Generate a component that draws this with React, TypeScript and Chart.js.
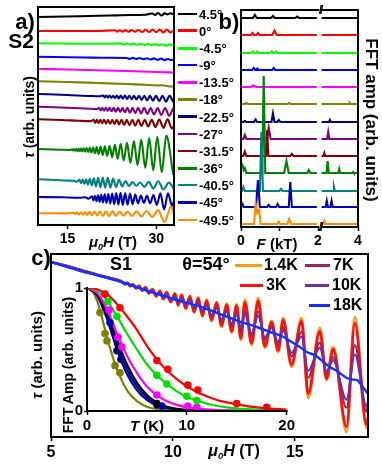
import React, { useEffect, useRef } from "react";
import { Chart, registerables } from "chart.js";
Chart.register(...registerables);

const FONT = '"Liberation Sans", Arial, Helvetica, sans-serif';

// ---------------- Panel a : torque vs field, sample S2, several angles ----------------
const angleLabels = ["4.5°", "0°", "-4.5°", "-9°", "-13.5°", "-18°", "-22.5°", "-27°", "-31.5°", "-36°", "-40.5°", "-45°", "-49.5°"];
const angleColors = ["#000000", "#ff0000", "#00ff00", "#0000ff", "#ff00ff", "#808000", "#000080", "#800080", "#800000", "#008000", "#008080", "#0000b0", "#ff8c00"];
const fieldTicksA = [15, 30];

const tauP45: number[][] = [[10,205],[17.1,205.7],[22.2,206.5],[25.6,207],[28.1,207.3],[29.3,208.5],[29.8,207],[30.3,209],[30.9,206.5],[31.4,208.6],[31.9,207.5],[32.4,208.8],[32.9,207.8]];
const tau0: number[][] = [[10,191],[20,191],[23,191.8],[23.4,190.4],[23.8,191.8],[24.3,190.3],[24.8,191.9],[25.3,190.2],[25.8,192],[26.4,190.2],[27,192],[27.6,190],[28.2,192.2],[28.8,190],[29.4,192.5],[30,189.8],[30.6,192.5],[31.2,189.5],[31.8,192.5],[32.4,189.5],[32.9,191]];
const tauM45: number[][] = [[10,178.7],[18,178.3],[22,178.2],[24,178.6],[24.5,177.4],[25,178.5],[25.6,177.3],[26.2,178.4],[26.8,177.2],[27.4,178.3],[28,177],[28.6,178.1],[29.2,176.8],[29.8,178],[30.4,176.6],[31,177.8],[31.6,176.3],[32.2,177.6],[32.9,176.5]];
const tauM9: number[][] = [[10,165.3],[18,164.5],[22,164.2],[25,164],[25.5,163],[26,164.2],[26.6,163],[27.2,164],[27.8,162.8],[28.4,163.8],[29,162.5],[29.6,163.6],[30.2,162.2],[30.8,163.4],[31.4,162],[32,163],[32.5,161.8],[32.9,162.4]];
const tauM135: number[][] = [[10,153],[15,152.5],[20,151.8],[25,151],[30,150],[33,149.5]];
const tauM18: number[][] = [[10,140.7],[15,140],[20,139],[25,138],[28,137.3],[30,136.5],[31,136.8],[32,135.8],[33,135.5]];
const tauM225: number[][] = [[10,128],[15,127],[19,126],[20.5,125.8],[21,126.5],[21.27,124.6],[21.54,126.5],[21.82,124.4],[22.1,126.4],[22.4,124.3],[22.7,126.3],[23.01,124],[23.33,126.4],[23.66,123.6],[24,126.5],[24.34,123.3],[24.7,126.4],[25.07,123.1],[25.45,126.3],[25.84,122.8],[26.24,126.3],[26.65,122.5],[27.08,126.2],[27.52,122.1],[27.98,126.2],[28.45,121.7],[28.94,126.2],[29.44,121.3],[29.96,126.2],[30.5,120.9],[31.06,126.2],[31.64,120.4],[32.25,126.1],[32.87,120]];
const tauM27: number[][] = [[10,115.3],[15,114.2],[18,113.5],[20,113],[20.31,114.1],[20.59,111.6],[20.88,114.1],[21.18,111.3],[21.48,114.1],[21.8,111.1],[22.12,114.1],[22.46,110.7],[22.8,114.1],[23.16,110.4],[23.53,114.1],[23.91,110],[24.3,114.1],[24.7,109.7],[25.12,114.1],[25.55,109.3],[26,114.1],[26.46,108.9],[26.94,114.1],[27.44,108.5],[27.95,114.1],[28.49,108],[29.04,114],[29.62,107.5],[30.22,114],[30.85,107],[31.5,114],[32.18,106.3],[32.89,114]];
const tauM315: number[][] = [[10,102.7],[14,102],[17,101.2],[19,100.9],[19.39,102.2],[19.67,99.2],[19.95,102.2],[20.25,99],[20.55,102.2],[20.86,98.7],[21.18,102.2],[21.51,98.4],[21.85,102.2],[22.2,98.2],[22.56,102.2],[22.94,97.9],[23.32,102.3],[23.72,97.5],[24.14,102.3],[24.57,97.1],[25.01,102.3],[25.47,96.7],[25.95,102.3],[26.44,96.3],[26.96,102.2],[27.49,96],[28.05,102.2],[28.63,95.5],[29.23,102.3],[29.86,94.9],[30.51,102.4],[31.2,94.2],[31.91,102.7],[32.66,93.3],[33,96]];
const tauM36: number[][] = [[10,73],[13.73,72.3],[15.42,72],[15.76,72.6],[15.93,71.5],[16.1,72.8],[16.29,71.3],[16.47,73],[16.66,71],[16.86,73.3],[17.07,70.8],[17.29,73.5],[17.51,70.6],[17.75,73.8],[17.98,70.3],[18.24,74],[18.49,70],[18.76,74.2],[19.03,69.5],[19.32,74.5],[19.61,68.7],[19.92,74.9],[20.24,67.9],[20.58,75.4],[20.93,67],[21.31,75.6],[21.69,66],[22.12,76.3],[22.54,64.7],[23,77.1],[23.47,63.2],[23.98,78.2],[24.49,61.3],[25.05,79.3],[25.63,59.1],[26.22,80.9],[26.83,56.7],[27.46,82.4],[28.14,54.2],[28.81,83.9],[29.49,51.7],[30.17,85],[30.93,49.7],[31.69,86.4],[32.88,47]];
const tauM405: number[][] = [[10,42.7],[13,42],[15,41.4],[16,41.3],[16.5,40.3],[17,42.2],[17.27,38.8],[17.55,42.5],[17.84,38.1],[18.14,42.8],[18.45,37.4],[18.77,43.1],[19.1,36.65],[19.44,43.75],[19.8,35.65],[20.17,44.3],[20.55,34.7],[20.95,44.5],[21.36,34.4],[21.79,44.2],[22.24,34.4],[22.71,43.4],[23.2,34.9],[23.71,42.2],[24.24,35.6],[24.79,41],[25.37,36],[25.98,39.85],[26.62,36.25],[27.29,39.45],[27.99,35.15],[28.73,40.1],[29.51,33.5],[30.33,40.8],[31.2,32.7],[32.12,39.4],[33,33]];
const tauM45b: number[][] = [[10,25],[14,24.7],[17,24.3],[18,24.8],[18.5,23.3],[19.14,25.8],[19.38,21.6],[19.63,26.2],[19.89,20.9],[20.15,26.7],[20.42,20.3],[20.7,27.2],[20.99,19.5],[21.28,27.7],[21.58,19.1],[21.89,28],[22.21,18.5],[22.54,28.5],[22.88,18],[23.23,28.9],[23.59,17.4],[23.96,29.2],[24.34,17.1],[24.74,29],[25.15,17.3],[25.57,28.5],[26,17.9],[26.45,27.4],[26.92,18.7],[27.4,26.5],[27.9,19.2],[28.42,26.1],[28.96,18.7],[29.52,27],[30.1,17.1],[30.7,28.6],[31.33,12.5],[31.98,28.6],[32.67,16.5],[33,21]];
const tauM495: number[][] = [[10,8.7],[13,8.7],[15,8.6],[16,9.4],[16.3,7.7],[16.61,9.6],[16.93,7.5],[17.26,9.7],[17.61,7.2],[17.97,9.9],[18.34,7],[18.73,10.1],[19.14,6.8],[19.57,10.4],[20.01,6.45],[20.48,10.6],[20.97,6.1],[21.48,10.8],[22.02,5.9],[22.58,10.9],[23.17,5.95],[23.8,10.5],[24.46,6.3],[25.15,10.3],[25.89,6.05],[26.67,10.6],[27.49,5.6],[28.37,10.95],[29.31,4.9],[30.31,11.9],[31.38,0],[32.52,15.5],[33,7.5]];
const tracesA = [tauP45, tau0, tauM45, tauM9, tauM135, tauM18, tauM225, tauM27, tauM315, tauM36, tauM405, tauM45b, tauM495];

// ---------------- Panel b : FFT amplitude vs frequency (kT), axis broken at 2 kT ----------------
const freqTicksLeft = [0, 1, 2];
const freqTicksRight = [4];
const fftP45: number[][] = [[0,209],[0.31,209],[0.36,212],[0.41,209],[0.78,209],[0.83,211],[0.88,209],[1.41,209],[1.46,210.5],[1.51,209],[1.97,209],[2.03,209],[4,209]];
const fft0: number[][] = [[0,192],[0.26,192],[0.3,194],[0.34,192],[0.4,192],[0.44,194],[0.48,192],[0.81,192],[0.87,196.5],[0.93,192],[1.97,192],[2.03,192],[4,192]];
const fftM45: number[][] = [[0,174],[0.27,174],[0.31,175.5],[0.35,174],[0.38,174],[0.42,175.5],[0.46,174],[0.76,174],[0.8,175.5],[0.84,174],[0.87,174],[0.91,175.5],[0.95,174],[1.97,174],[2.03,174],[4,174]];
const fftM9: number[][] = [[0,157],[0.29,157],[0.33,159],[0.37,157],[0.39,157],[0.42,158.5],[0.46,157],[0.81,157],[0.85,159],[0.89,157],[1.97,157],[2.03,157],[4,157]];
const fftM135: number[][] = [[0,140],[0.26,140],[0.3,141.5],[0.33,140.5],[0.36,141],[0.4,140],[1.97,140],[2.03,140],[4,140]];
const fftM18: number[][] = [[0,123],[0.1,123],[0.14,124],[0.18,123],[1.21,123],[1.25,124],[1.29,123],[1.97,123],[2.03,123],[3.52,123],[3.56,124],[3.6,123],[4,123]];
const fftM225: number[][] = [[0,105],[0.06,105],[0.1,106],[0.14,105],[0.34,105],[0.38,107.5],[0.42,105],[0.79,105],[0.83,113.5],[0.87,105],[0.94,105],[0.98,107],[1.02,105],[1.97,105],[2.03,105],[2.43,105],[2.48,107],[2.53,105],[4,105]];
const fftM27: number[][] = [[0,88],[0.06,88],[0.1,92],[0.14,88],[0.68,88],[0.72,99],[0.77,88],[1.97,88],[2.03,88],[2.33,88],[2.39,95],[2.45,88],[4,88]];
const fftM315: number[][] = [[0,71],[0.06,71],[0.1,75.5],[0.14,71],[0.65,71],[0.68,97],[0.71,71],[1.28,71],[1.32,73],[1.36,71],[1.97,71],[2.03,71],[2.13,71],[2.18,74],[2.23,71],[4,71]];
const fftM36: number[][] = [[0,64],[0.04,62],[0.07,57],[0.1,59],[0.14,54],[0.55,54],[0.59,151],[0.63,54],[1.12,54],[1.18,66],[1.24,54],[1.72,54],[1.76,57],[1.8,54],[1.97,54],[2.03,54],[2.3,54],[2.36,66],[2.42,54],[2.93,54],[2.98,58],[3.03,54],[3.7,54],[3.74,55],[3.78,54],[4,54]];
const fftM405: number[][] = [[0,36],[0.03,36],[0.06,40],[0.1,36],[0.49,36],[0.53,95],[0.57,36],[1,36],[1.04,38],[1.08,36],[1.25,36],[1.29,37],[1.33,36],[1.97,36],[2.03,36],[2.65,36],[2.7,40],[2.75,36],[4,36]];
const fftM45b: number[][] = [[0,20],[0.01,20],[0.04,23],[0.07,20],[0.39,20],[0.44,47],[0.49,20],[0.68,20],[0.72,22],[0.76,20],[0.91,20],[0.95,23],[0.99,20],[1.24,20],[1.28,45],[1.32,20],[1.97,20],[2.03,20],[2.25,20],[2.31,26],[2.37,20],[2.51,20],[2.57,26],[2.63,20],[4,20]];
const fftM495: number[][] = [[0,3],[0.34,3],[0.38,23],[0.42,14],[0.47,17],[0.51,3],[0.94,3],[0.98,5.3],[1.02,3],[1.2,3],[1.25,8],[1.3,3],[1.97,3],[2.03,3],[2.13,3],[2.18,6],[2.23,3],[4,3]];
const tracesB = [fftP45, fft0, fftM45, fftM9, fftM135, fftM18, fftM225, fftM27, fftM315, fftM36, fftM405, fftM45b, fftM495];

// ---------------- Panel c : torque vs field, sample S1, theta = 54 deg ----------------
const tempLabels = ["1.4K", "3K", "7K", "10K", "18K"];
const tempColors = ["#ff9a1a", "#ff1010", "#a3205e", "#7030a0", "#1530ff"];
const fieldTicksC = [5, 10, 15];
const fieldC = [5,6,7,7.5,7.93,8.033,8.135,8.246,8.361,8.484,8.607,8.738,8.873,9.016,9.16,9.311,9.467,9.602,9.742,9.91,10.082,10.217,10.357,10.525,10.697,10.865,11.037,11.209,11.381,11.586,11.791,11.996,12.201,12.406,12.611,12.787,12.951,13.225,13.496,13.77,14.045,14.316,14.52,14.865,15.275,15.545,16.025,16.299,16.57,17.119,17.459,17.939,18];
const tau1p4K = [175,168.5,161.5,158.5,155,152.6,154.3,150.8,152.8,148.6,151.4,146.2,149.8,143.4,148,140.6,146.3,137.7,145,134.7,143.5,131.4,142.5,128,141.2,124.5,139.7,120.4,137.3,116,135.1,110.2,133.3,104.5,132.6,97,137,92,139,89,116,85,119,70,119,39,109,57,90,5,120,9,18];
const tau3K = [175,168.5,161.5,158.5,154.9,152.7,154.2,150.9,152.7,148.8,151.2,146.4,149.6,143.7,147.7,140.9,145.9,138.1,144.6,135.2,143,132,141.9,128.7,140.5,125.3,138.9,121.3,136.4,117,134,111.4,132,105.9,131,98.8,134.7,93.9,136,90.8,114.8,86.6,116.9,72.4,115.9,43.5,105.7,58.5,87.8,10.4,113.8,12.6,20];
const tau7K = [175,168.5,161.5,158.5,154.6,153.1,153.7,151.4,152.1,149.4,150.5,147.2,148.7,144.7,146.7,142.1,144.7,139.5,143.1,136.9,141.1,134,139.7,131.2,137.8,128.1,135.9,124.4,133,120.5,130.2,115.6,127.5,110.8,125.4,105.1,126.5,100.7,125.5,97,110.8,92.2,109.7,80.6,105.1,59.3,94.3,63.8,79.9,29.3,91.9,25.3,32];
const tau10K = [175,168.5,161.5,158.5,154.4,153.3,153.5,151.6,151.9,149.6,150.2,147.5,148.3,145.1,146.2,142.6,144.1,140.1,142.4,137.6,140.3,134.9,138.7,132.2,136.7,129.3,134.6,125.8,131.6,122,128.5,117.4,125.5,112.9,123,107.8,123,103.6,121.1,99.7,109,94.7,106.6,84.2,100.4,66.1,89.4,66,76.6,37.4,82.5,30.8,36];
const tau18K: number[][] = [[5,175],[6.07,167],[7.01,161],[8.03,154],[9.06,145.3],[10.08,137.5],[11.11,130.3],[11.93,123],[12.75,115.3],[13.44,110],[14.1,104],[14.5,100.5],[14.8,96],[15.2,90],[15.49,85],[15.8,82],[16.03,78],[16.43,70],[16.7,66.5],[16.84,64],[17.13,59],[17.34,57.5],[17.54,57],[17.79,50],[18,43]];

// ---------------- Inset : FFT amplitude vs temperature (LK fits + points) ----------------
const tempTicksInset = [0, 10, 20];
const ampTicksInset = [0, 1];
const insetColors = ["#ff0000", "#00dd00", "#ff00ff", "#000000", "#0000c0", "#000080", "#808000"];
const fitRed: number[][] = [[0,1],[1,0.99],[2,0.95],[3,0.87],[4,0.77],[5,0.66],[6,0.53],[7,0.42],[8,0.33],[9,0.26],[10,0.2],[11,0.155],[12,0.12],[13,0.09],[14,0.07],[15,0.055],[16,0.04],[17,0.03],[18,0.022],[20,0.012]];
const fitLime: number[][] = [[0,1],[1,0.98],[2,0.9],[3,0.77],[4,0.63],[5,0.5],[6,0.38],[7,0.29],[8,0.22],[9,0.16],[10,0.115],[11,0.085],[12,0.06],[13,0.043],[14,0.03],[16,0.015],[18,0.007],[20,0.003]];
const fitMagenta: number[][] = [[0,1],[1,0.96],[2,0.83],[3,0.63],[4,0.45],[5,0.31],[6,0.2],[7,0.13],[8,0.08],[9,0.05],[10,0.03],[11,0.02],[13,0.008],[15,0.003],[20,0]];
const fitBlack: number[][] = [[0,1],[1,0.95],[2,0.8],[3,0.58],[4,0.38],[5,0.23],[6,0.13],[7,0.07],[8,0.035],[9,0.017],[10,0.008],[12,0.002],[20,0]];
const fitBlue: number[][] = [[0,1],[1,0.95],[2,0.78],[3,0.55],[4,0.34],[5,0.2],[6,0.11],[7,0.055],[8,0.028],[9,0.013],[10,0.006],[12,0.001],[20,0]];
const fitNavy: number[][] = [[0,1],[1,0.94],[2,0.75],[3,0.5],[4,0.3],[5,0.17],[6,0.09],[7,0.045],[8,0.022],[9,0.01],[10,0.005],[12,0.001],[20,0]];
const fitOlive: number[][] = [[0,1],[0.5,0.98],[1,0.9],[1.5,0.76],[2,0.6],[2.5,0.46],[3,0.34],[4,0.17],[5,0.08],[6,0.035],[7,0.015],[8,0.006],[9,0.002],[10,0],[20,0]];
const dotsRed: number[][] = [[1.8,0.95],[3.3,0.84],[7,0.41],[8.1,0.34],[10.1,0.21],[11.1,0.17],[15,0.06],[18,0.03]];
const dotsLime: number[][] = [[2.1,0.89],[3,0.77],[7,0.29],[8,0.22],[10,0.12],[11,0.085]];
const dotsMagenta: number[][] = [[2.2,0.82],[3.1,0.6],[3.5,0.52],[7,0.13],[10.1,0.04],[11,0.03]];
const dotsBlack: number[][] = [[3.2,0.52],[7,0.06]];
const dotsBlue: number[][] = [[2.3,0.72],[7.5,0.04]];
const dotsNavy: number[][] = [[3,0.49],[3.4,0.42],[7,0.05]];
const dotsOlive: number[][] = [[1.3,0.8],[1.8,0.63],[2,0.57],[2.8,0.37],[3.3,0.31]];
const insetFits = [fitRed, fitLime, fitMagenta, fitBlack, fitBlue, fitNavy, fitOlive];
const insetDots = [dotsRed, dotsLime, dotsMagenta, dotsBlack, dotsBlue, dotsNavy, dotsOlive];

// ---------------- helpers ----------------
const xy = (a: number[][]) => a.map(([x, y]) => ({ x, y }));

const framePlugin = {
  id: "frame",
  afterDatasetsDraw(chart: any, _args: any, opts: any) {
    const { ctx, chartArea } = chart;
    const { left, right, top, bottom } = chartArea;
    const s: string = opts.sides || "ltrb";
    ctx.save();
    ctx.strokeStyle = "#000";
    ctx.lineWidth = 2;
    ctx.lineCap = "square";
    ctx.beginPath();
    if (s.includes("l")) { ctx.moveTo(left, top); ctx.lineTo(left, bottom); }
    if (s.includes("r")) { ctx.moveTo(right, top); ctx.lineTo(right, bottom); }
    if (s.includes("t")) { ctx.moveTo(left, top); ctx.lineTo(right, top); }
    if (s.includes("b")) { ctx.moveTo(left, bottom); ctx.lineTo(right, bottom); }
    ctx.stroke();
    ctx.restore();
  },
};

function xAxis(min: number, max: number, ticks: number[], h: number, size: number, label?: (v: number) => string) {
  return {
    type: "linear", min, max, position: "bottom",
    afterBuildTicks: (s: any) => { s.ticks = ticks.map((v) => ({ value: v })); },
    afterFit: (s: any) => { s.height = h; },
    grid: { drawOnChartArea: false, drawTicks: true, tickLength: 4, tickWidth: 1.5, tickColor: "#000" },
    border: { display: false },
    ticks: {
      autoSkip: false, maxRotation: 0, minRotation: 0, padding: 2, color: "#000",
      font: { family: FONT, size, weight: "bold" },
      callback: (v: number) => (label ? label(v) : String(v)),
    },
  };
}

function makeConfig(o: any) {
  return {
    type: "line",
    data: { datasets: o.datasets },
    options: {
      responsive: false,
      animation: false,
      events: [],
      layout: { padding: o.pad },
      plugins: { legend: { display: false }, tooltip: { enabled: false }, frame: { sides: o.sides } },
      scales: { x: o.x, y: o.y },
    },
    plugins: [framePlugin],
  };
}

function ChartCanvas({ x, y, w, h, config }: any) {
  const ref = useRef<HTMLCanvasElement>(null);
  useEffect(() => {
    const c = new Chart(ref.current as HTMLCanvasElement, config);
    return () => c.destroy();
  }, []);
  return <canvas ref={ref} width={w} height={h} style={{ position: "absolute", left: x, top: y, width: w, height: h }} />;
}

function Txt({ x, y, size, children, align = "center", rot = 0, color = "#000", style = {} }: any) {
  const tx = align === "center" ? "-50%" : "0";
  return (
    <div style={{ position: "absolute", left: x, top: y, transform: `translate(${tx}, -50%) rotate(${rot}deg)`, fontFamily: FONT, fontWeight: "bold", fontSize: size, lineHeight: 1, whiteSpace: "nowrap", color, ...style }}>
      {children}
    </div>
  );
}

const Mu0H = () => (
  <span>
    <i>μ</i>
    <span style={{ fontSize: "0.6em", fontStyle: "italic", position: "relative", top: "0.35em" }}>0</span>
    <i>H</i> (T)
  </span>
);

function LegendLine({ x1, x2, y, color, w = 3 }: any) {
  return <div style={{ position: "absolute", left: x1, top: y - w / 2, width: x2 - x1, height: w, background: color }} />;
}

// ---------------- configs ----------------
const hiddenY = (min: number, max: number) => ({ type: "linear", display: false, min, max });

const configA = makeConfig({
  pad: { left: 6, right: 6, top: 6, bottom: 0 },
  sides: "ltrb",
  x: xAxis(10, 33, fieldTicksA, 26, 14),
  y: hiddenY(-3, 215),
  datasets: tracesA.map((d, i) => ({
    data: xy(d), borderColor: angleColors[i], borderWidth: 2.1, pointRadius: 0,
    cubicInterpolationMode: "monotone", fill: false,
  })),
});

const bDatasets = (keep: (f: number) => boolean) =>
  tracesB
    .map((d, i) => ({
      data: xy(d.filter((p) => keep(p[0]))), borderColor: angleColors[i], borderWidth: 2.1,
      pointRadius: 0, tension: 0, fill: false,
    }))
    .reverse();

const configBL = makeConfig({
  pad: { left: 8, right: 6, top: 6, bottom: 0 },
  sides: "ltb",
  x: xAxis(0, 2, freqTicksLeft, 26, 14, (v) => (v === 1 ? "" : String(v))),
  y: hiddenY(0, 217),
  datasets: bDatasets((f) => f <= 2),
});

const configBR = makeConfig({
  pad: { left: 6, right: 8, top: 6, bottom: 0 },
  sides: "rtb",
  x: xAxis(2, 4, freqTicksRight, 26, 14),
  y: hiddenY(0, 217),
  datasets: bDatasets((f) => f >= 2),
});

const oscSeries = [tau1p4K, tau3K, tau7K, tau10K];
const configC = makeConfig({
  pad: { left: 8, right: 8, top: 6, bottom: 0 },
  sides: "ltrb",
  x: xAxis(5, 18, fieldTicksC, 26, 16),
  y: hiddenY(0, 183),
  datasets: [
    { data: xy(tau18K), borderColor: tempColors[4], borderWidth: 2.4, pointRadius: 0, cubicInterpolationMode: "monotone" },
    ...[3, 2, 1, 0].map((k) => ({
      data: fieldC.map((b, i) => ({ x: b, y: oscSeries[k][i] })),
      borderColor: tempColors[k], borderWidth: k < 2 ? 2.8 : 2.2, pointRadius: 0, cubicInterpolationMode: "monotone",
    })),
  ],
});

const configInset = makeConfig({
  pad: { left: 2, right: 10, top: 10, bottom: 0 },
  sides: "lb",
  x: xAxis(0, 20, tempTicksInset, 22, 15),
  y: {
    type: "linear", min: 0, max: 1, position: "left",
    afterBuildTicks: (s: any) => { s.ticks = ampTicksInset.map((v) => ({ value: v })); },
    afterFit: (s: any) => { s.width = 14; },
    grid: { drawOnChartArea: false, drawTicks: true, tickLength: 3, tickWidth: 1.5, tickColor: "#000" },
    border: { display: false },
    ticks: { padding: 1, color: "#000", font: { family: FONT, size: 15, weight: "bold" } },
  },
  datasets: [
    ...insetDots.map((d, i) => ({
      data: xy(d), showLine: false, pointRadius: 3.8, pointBackgroundColor: insetColors[i],
      pointBorderColor: insetColors[i], pointBorderWidth: 0, borderColor: insetColors[i],
    })),
    ...insetFits.map((d, i) => ({
      data: xy(d), borderColor: insetColors[i], borderWidth: 2.2, pointRadius: 0, cubicInterpolationMode: "monotone",
    })),
  ],
});

const legendAY = [14, 30.7, 48.3, 65, 82.3, 99.3, 116.7, 134, 151, 168.3, 185, 202.3, 220];

export default function App() {
  return (
    <div style={{ position: "absolute", left: 0, top: 0, width: 382, height: 469, overflow: "hidden", background: "#fff" }}>
      <ChartCanvas x={32} y={1} w={148} h={250} config={configA} />
      <ChartCanvas x={233} y={4} w={91} h={249} config={configBL} />
      <ChartCanvas x={315} y={4} w={51} h={249} config={configBR} />
      <ChartCanvas x={43} y={248} w={333} h={215} config={configC} />
      <ChartCanvas x={71} y={278} w={226} h={155} config={configInset} />

      {/* panel a texts */}
      <Txt x={25} y={22} size={22}>a)</Txt>
      <Txt x={21} y={40} size={21}>S2</Txt>
      <Txt x={29} y={117} size={14} rot={-90}><i>τ</i> (arb. units)</Txt>
      <Txt x={113} y={241} size={15}><Mu0H /></Txt>
      {angleLabels.map((lab, i) => (
        <React.Fragment key={lab}>
          <LegendLine x1={178} x2={197} y={legendAY[i]} color={angleColors[i]} w={2.5} />
          <Txt x={199} y={legendAY[i]} size={13} align="left">{lab}</Txt>
        </React.Fragment>
      ))}

      {/* panel b texts */}
      <Txt x={229} y={22} size={22}>b)</Txt>
      <Txt x={371} y={120} size={17} rot={90}>FFT amp (arb. units)</Txt>
      <Txt x={277} y={243} size={15}><i>F</i> (kT)</Txt>
      <Txt x={320} y={10} size={12} style={{ letterSpacing: "-2px" }}>//</Txt>
      <Txt x={320} y={227} size={12} style={{ letterSpacing: "-2px" }}>//</Txt>

      {/* panel c texts */}
      <Txt x={41} y={258} size={22}>c)</Txt>
      <Txt x={121} y={264} size={18}>S1</Txt>
      <Txt x={206} y={264} size={18}>θ=54°</Txt>
      <LegendLine x1={235} x2={262} y={265} color={tempColors[0]} />
      <Txt x={264} y={265} size={16} align="left">{tempLabels[0]}</Txt>
      <LegendLine x1={305} x2={330} y={265} color={tempColors[2]} />
      <Txt x={333} y={265} size={16} align="left">{tempLabels[2]}</Txt>
      <LegendLine x1={240} x2={263} y={285} color={tempColors[1]} />
      <Txt x={266} y={285} size={16} align="left">{tempLabels[1]}</Txt>
      <LegendLine x1={305} x2={329} y={285} color={tempColors[3]} />
      <Txt x={332} y={285} size={16} align="left">{tempLabels[3]}</Txt>
      <LegendLine x1={309} x2={330} y={305} color={tempColors[4]} />
      <Txt x={333} y={305} size={16} align="left">{tempLabels[4]}</Txt>
      <Txt x={36} y={355} size={15} rot={-90}><i>τ</i> (arb. units)</Txt>
      <Txt x={68} y={365} size={14} rot={-90}>FFT Amp (arb. units)</Txt>
      <Txt x={147} y={425} size={15}><i>T</i> (K)</Txt>
      <Txt x={234} y={451} size={16}><Mu0H /></Txt>
    </div>
  );
}
